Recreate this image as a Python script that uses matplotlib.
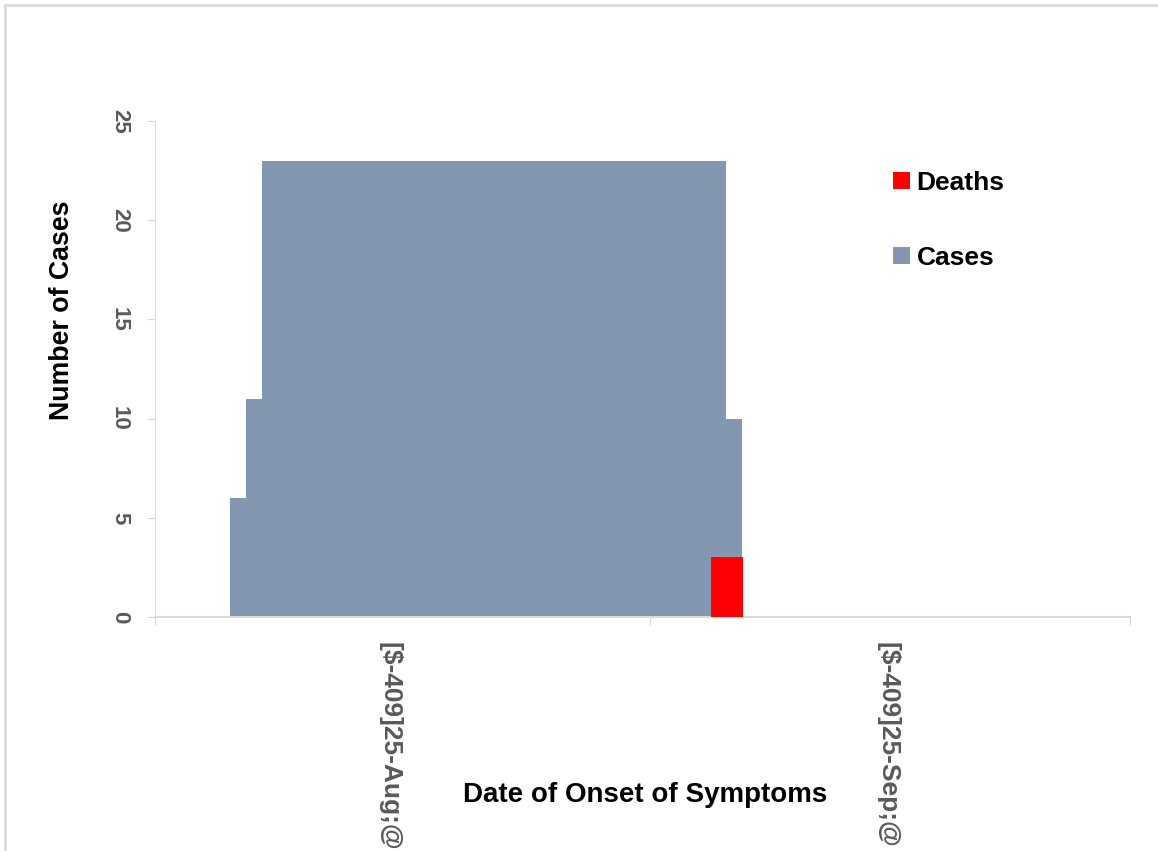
import matplotlib.pyplot as plt
from matplotlib.patches import Rectangle

# days since 25-Aug (left edge of each daily bar)
case_start = 4.7
cases = [6, 11,
         23, 23, 23, 23, 23, 23, 23, 23, 23, 23,
         23, 23, 23, 23, 23, 23, 23, 23, 23, 23,
         23, 23, 23, 23, 23, 23, 23, 23, 23,
         10]
death_start = 34.8
deaths = [3, 3]

tick_days = [0, 31, 61]
label_days = [14.7, 45.8]
date_labels = ["[$-409]25-Aug;@", "[$-409]25-Sep;@"]

plt.rcParams['font.family'] = ['Liberation Sans', 'DejaVu Sans']

fig = plt.figure(figsize=(11.58, 8.51), dpi=100)
ax = fig.add_axes([155 / 1158, 1 - 617 / 851, 975 / 1158, 496 / 851])

case_x = [case_start + i for i in range(len(cases))]
death_x = [death_start + i for i in range(len(deaths))]
ax.bar(case_x, cases, width=1.0, align='edge', color='#8497b0', label='Cases', zorder=2)
ax.bar(death_x, deaths, width=1.0, align='edge', color='#ff0000', label='Deaths', zorder=3)

ax.set_xlim(0, 61)
ax.set_ylim(0, 25)

ax.set_xticks(tick_days)
ax.set_xticklabels([])
ax.set_xticks(label_days, minor=True)
ax.set_xticklabels(date_labels, minor=True, rotation=-90, fontsize=19,
                   fontweight='bold', color='#595959', va='top', ha='center')
ax.tick_params(axis='x', which='minor', length=0, pad=18)
ax.tick_params(axis='x', which='major', length=6, color='#d9d9d9')

ax.set_yticks([0, 5, 10, 15, 20, 25])
ax.set_yticklabels(['0', '5', '10', '15', '20', '25'], rotation=-90,
                   fontsize=16, fontweight='bold', color='#595959', va='center')
ax.tick_params(axis='y', length=6, color='#d9d9d9', pad=12)

for s in ['top', 'right']:
    ax.spines[s].set_visible(False)
ax.spines['left'].set_color('#d9d9d9')
ax.spines['bottom'].set_color('#d9d9d9')
ax.spines['bottom'].set_linewidth(1.5)

fig.text(62 / 1158, 1 - 310 / 851, 'Number of Cases', rotation=90, fontsize=19.3,
         fontweight='bold', ha='center', va='center')
fig.text(645 / 1158, 1 - 795 / 851, 'Date of Onset of Symptoms', fontsize=20,
         fontweight='bold', ha='center', va='center')

handles, labels = ax.get_legend_handles_labels()
ax.legend(handles[::-1], labels[::-1], loc='upper left', bbox_to_anchor=(0.733, 0.948),
          frameon=False, prop={'weight': 'bold', 'size': 19},
          handlelength=0.62, handleheight=0.62, handletextpad=0.25, labelspacing=1.95)

fig.patches.append(Rectangle((5 / 1158, -0.01), 1.02, 1 - 5 / 851 + 0.01,
                             transform=fig.transFigure, fill=False,
                             edgecolor='#d9d9d9', linewidth=2))

fig.savefig('out.png', dpi=100)
